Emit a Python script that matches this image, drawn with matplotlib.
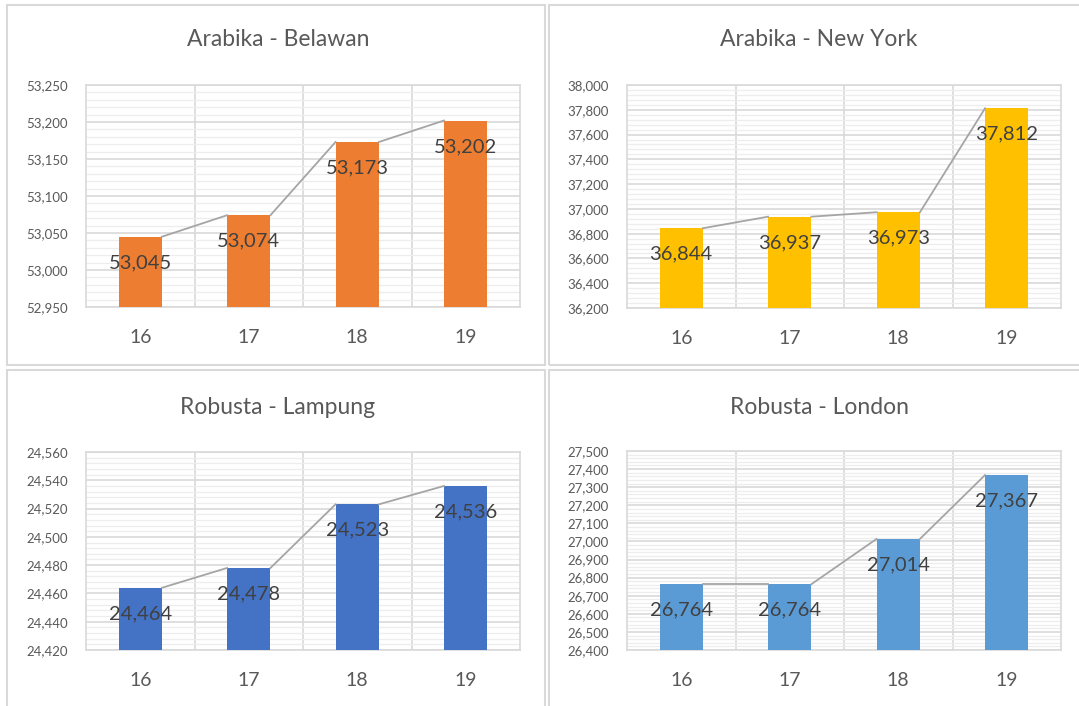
import matplotlib.pyplot as plt
from matplotlib.ticker import MultipleLocator, FuncFormatter
from matplotlib.patches import Rectangle

plt.rcParams['font.family'] = ['Lato', 'DejaVu Sans']

# Data
years = ["16", "17", "18", "19"]
belawan = [53045, 53074, 53173, 53202]
new_york = [36844, 36937, 36973, 37812]
lampung = [24464, 24478, 24523, 24536]
london = [26764, 26764, 27014, 27367]

titles = ["Arabika - Belawan", "Arabika - New York", "Robusta - Lampung", "Robusta - London"]
series = [belawan, new_york, lampung, london]
colors = ["#ED7D31", "#FFC000", "#4472C4", "#5B9BD5"]
ylims = [(52950, 53250), (36200, 38000), (24420, 24560), (26400, 27500)]
majors = [50, 200, 20, 100]

W, H = 1079, 706
fig = plt.figure(figsize=(W / 100, H / 100), dpi=100)

# panel frames (pixels: x0, y0, x1, y1)
frames = [(7, 5, 545, 365), (549, 5, 1085, 365), (7, 370, 545, 712), (549, 370, 1085, 712)]
for x0, y0, x1, y1 in frames:
    fig.patches.append(Rectangle((x0 / W, 1 - y1 / H), (x1 - x0) / W, (y1 - y0) / H,
                                 transform=fig.transFigure, fill=False,
                                 edgecolor="#D9D9D9", linewidth=1.5))

# plot areas (pixels: left, top, right, bottom)
areas = [(86, 85, 520, 307), (627, 85, 1061, 308), (86, 452, 520, 650), (627, 451, 1061, 650)]
title_y = [40, 40, 407, 407]

bw = 0.4
fmt = FuncFormatter(lambda v, p: f"{int(round(v)):,}")

for i in range(4):
    l, t, r, b = areas[i]
    ax = fig.add_axes([l / W, 1 - b / H, (r - l) / W, (b - t) / H])
    vals = series[i]
    x = list(range(len(years)))
    lo, hi = ylims[i]
    ax.bar(x, [v - lo for v in vals], bottom=lo, width=bw, color=colors[i], zorder=3)
    # series lines between bar tops
    for k in range(len(vals) - 1):
        ax.plot([x[k] + bw / 2, x[k + 1] - bw / 2], [vals[k], vals[k + 1]],
                color="#A5A5A5", linewidth=1.3, zorder=4)
    for k, v in enumerate(vals):
        ax.annotate(f"{v:,}", (x[k], v), xytext=(0, -26), textcoords="offset pixels",
                    ha="center", va="center", fontsize=14.5, color="#404040", zorder=5)
    ax.set_xlim(-0.5, 3.5)
    ax.set_ylim(lo, hi)
    ax.yaxis.set_major_locator(MultipleLocator(majors[i]))
    ax.yaxis.set_minor_locator(MultipleLocator(majors[i] / 5))
    ax.yaxis.set_major_formatter(fmt)
    ax.set_xticks(x)
    ax.set_xticklabels(years)
    ax.set_xticks([0.5, 1.5, 2.5], minor=True)
    ax.grid(True, which="major", axis="y", color="#D9D9D9", linewidth=1.2, zorder=1)
    ax.grid(True, which="minor", axis="y", color="#EDEDED", linewidth=0.9, zorder=0)
    ax.grid(True, which="minor", axis="x", color="#D9D9D9", linewidth=1.2, zorder=1)
    ax.tick_params(axis="both", which="both", length=0)
    ax.tick_params(axis="y", labelsize=9.5, labelcolor="#595959", pad=13)
    ax.tick_params(axis="x", labelsize=14, labelcolor="#595959", pad=16)
    for s in ax.spines.values():
        s.set_color("#D9D9D9")
        s.set_linewidth(1.2)
    cx = (l + r) / 2 - 25
    fig.text(cx / W, 1 - title_y[i] / H, titles[i], ha="center", va="center",
             fontsize=16.5, color="#595959")

fig.savefig("out.png", dpi=100)
